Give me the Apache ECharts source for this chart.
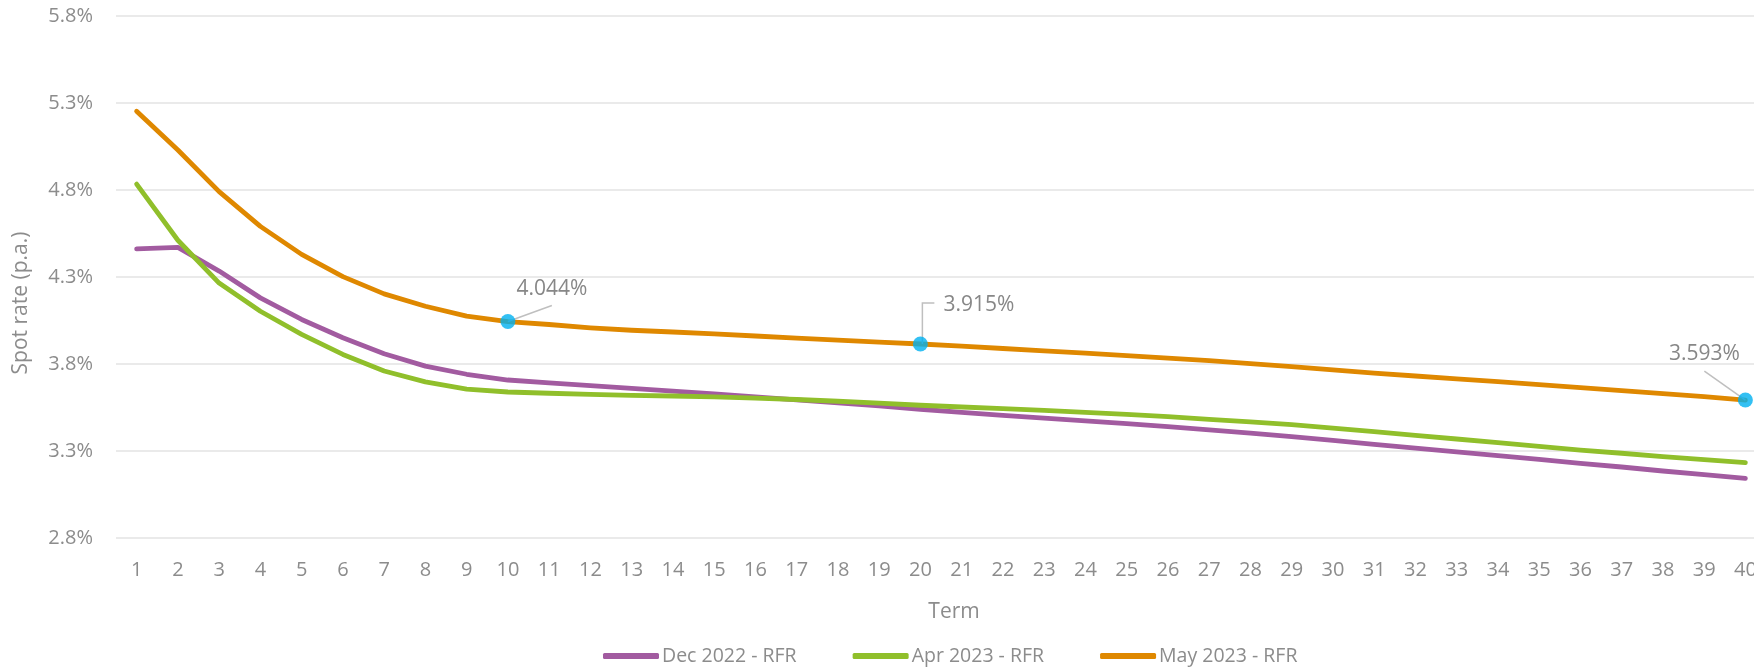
<!DOCTYPE html>
<html>
<head>
<meta charset="utf-8">
<script src="https://cdn.jsdelivr.net/npm/echarts@6/dist/echarts.min.js"></script>
<style>
html,body{margin:0;padding:0;background:#fff;}
#chart{width:1754px;height:669px;}
</style>
</head>
<body>
<div id="chart"></div>
<script>
const terms = Array.from({length: 40}, (_, i) => String(i + 1));
const dec2022 = [4.462, 4.470, 4.334, 4.180, 4.056, 3.951, 3.859, 3.788, 3.741, 3.708,
  3.692, 3.676, 3.660, 3.644, 3.628, 3.611, 3.594, 3.577, 3.559, 3.540,
  3.522, 3.505, 3.489, 3.473, 3.457, 3.440, 3.422, 3.403, 3.383, 3.361,
  3.338, 3.317, 3.295, 3.274, 3.252, 3.229, 3.208, 3.185, 3.164, 3.143];
const apr2023 = [4.834, 4.511, 4.265, 4.103, 3.970, 3.855, 3.760, 3.697, 3.655, 3.639,
  3.632, 3.626, 3.620, 3.616, 3.611, 3.604, 3.596, 3.586, 3.575, 3.563,
  3.553, 3.543, 3.534, 3.522, 3.510, 3.497, 3.482, 3.467, 3.451, 3.432,
  3.411, 3.390, 3.369, 3.348, 3.327, 3.305, 3.287, 3.268, 3.251, 3.233];
const may2023 = [5.253, 5.030, 4.791, 4.591, 4.430, 4.302, 4.203, 4.132, 4.075, 4.044,
  4.027, 4.008, 3.994, 3.984, 3.973, 3.961, 3.949, 3.937, 3.926, 3.915,
  3.903, 3.889, 3.876, 3.863, 3.848, 3.834, 3.819, 3.802, 3.785, 3.766,
  3.748, 3.731, 3.714, 3.699, 3.682, 3.664, 3.647, 3.630, 3.613, 3.593];
const highlightIdx = [9, 19, 39];
const seriesNames = ['Dec 2022 - RFR', 'Apr 2023 - RFR', 'May 2023 - RFR'];
const colors = ['#A25BA0', '#90BF2B', '#DF8800'];

const FONT = '"Open Sans", "Noto Sans", sans-serif';
const GRAY = '#8C8C8C';

const chart = echarts.init(document.getElementById('chart'), null, {renderer: 'canvas'});

function lineSeries(name, data, color) {
  return {
    name: name, type: 'line', data: data, symbol: 'none', smooth: false,
    lineStyle: {color: color, width: 4.8, cap: 'round', join: 'round'},
    itemStyle: {color: color}, z: 2
  };
}

const option = {
  animation: false,
  backgroundColor: '#ffffff',
  textStyle: {fontFamily: FONT},
  grid: {left: 116, top: 16, width: 1650, bottom: 131, containLabel: false, outerBoundsMode: 'none'},
  legend: {
    data: seriesNames,
    left: 598, top: 641,
    icon: 'roundRect', itemWidth: 56, itemHeight: 6, itemGap: 56,
    textStyle: {color: GRAY, fontSize: 19.5, fontFamily: FONT, padding: [0, 0, 0, -2]}
  },
  xAxis: {
    type: 'category', data: terms, boundaryGap: true,
    name: 'Term', nameLocation: 'middle', nameGap: 64,
    nameTextStyle: {color: GRAY, fontSize: 21, fontFamily: FONT, padding: [0, 0, 0, 26]},
    axisLine: {show: false}, axisTick: {show: false},
    axisLabel: {color: GRAY, fontSize: 20, fontFamily: FONT, margin: 22, interval: 0, hideOverlap: false}
  },
  yAxis: {
    type: 'value', min: 2.8, max: 5.8, interval: 0.5,
    name: 'Spot rate (p.a.)', nameLocation: 'middle', nameGap: 84,
    nameTextStyle: {color: GRAY, fontSize: 21, fontFamily: FONT, padding: [0, 52, 0, 0]},
    axisLine: {show: false}, axisTick: {show: false},
    axisLabel: {color: GRAY, fontSize: 20, fontFamily: FONT, margin: 23,
      formatter: v => v.toFixed(1) + '%'},
    splitLine: {lineStyle: {color: '#E3E3E3', width: 1.5}}
  },
  series: [
    lineSeries(seriesNames[0], dec2022, colors[0]),
    lineSeries(seriesNames[1], apr2023, colors[1]),
    lineSeries(seriesNames[2], may2023, colors[2]),
    {
      name: 'highlight', type: 'scatter', z: 5,
      data: highlightIdx.map(i => [i, may2023[i]]),
      symbol: 'circle', symbolSize: 15,
      itemStyle: {color: '#00B0F0'},
      silent: true
    }
  ]
};
chart.setOption(option);

// label placement relative to highlighted points
const labelCfg = [
  {dx: 44, dy: -33, align: 'center', line: [[0, 0], [44, -16]]},
  {dx: 23, dy: -39, align: 'left', line: [[2, 0], [2, -41], [14, -41]]},
  {dx: -41, dy: -46, align: 'center', line: [[-41, -29], [0, 0]]}
];
const graphics = [];
highlightIdx.forEach((idx, k) => {
  const p = chart.convertToPixel({seriesIndex: 2}, [idx, may2023[idx]]);
  const c = labelCfg[k];
  graphics.push({
    type: 'polyline', z: 4, silent: true,
    shape: {points: c.line.map(q => [p[0] + q[0], p[1] + q[1]])},
    style: {stroke: '#BFBFBF', lineWidth: 1.5, fill: null}
  });
  graphics.push({
    type: 'text', z: 6, silent: true,
    x: p[0] + c.dx, y: p[1] + c.dy,
    style: {text: may2023[idx].toFixed(3) + '%', fill: '#878787', font: '21px ' + FONT,
      align: c.align, verticalAlign: 'middle'}
  });
});
chart.setOption({graphic: graphics});
</script>
</body>
</html>
